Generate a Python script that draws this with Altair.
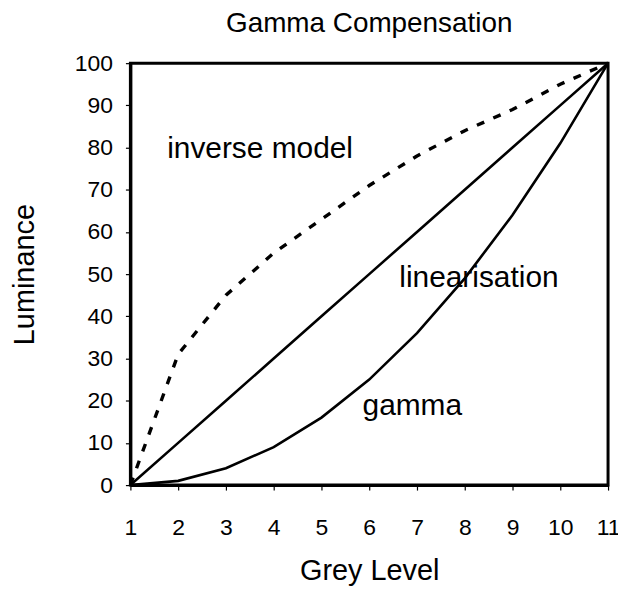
import altair as alt
import pandas as pd

grey = [1, 2, 3, 4, 5, 6, 7, 8, 9, 10, 11]
gamma = [0, 1, 4, 9, 16, 25, 36, 49, 64, 81, 100]
linear = [0, 10, 20, 30, 40, 50, 60, 70, 80, 90, 100]
inverse = [0, 31, 45, 55, 63, 71, 78, 84, 89, 95, 100]

label_text = ["inverse model", "linearisation", "gamma"]
label_x = [1.77, 6.63, 5.86]
label_y = [77.6, 46.9, 16.5]

rows = []
for name, vals in [("gamma", gamma), ("linear", linear), ("inverse", inverse)]:
    for g, v in zip(grey, vals):
        rows.append({"grey": g, "lum": v, "series": name})
df = pd.DataFrame(rows)
labels = pd.DataFrame({"text": label_text, "x": label_x, "y": label_y})

FONT = "Liberation Sans"

xs = alt.Scale(domain=[1, 11], nice=False, zero=False)
ys = alt.Scale(domain=[0, 100], nice=False)

solid = alt.Chart(df[df.series != "inverse"]).mark_line(color="black", strokeWidth=2.6).encode(
    x=alt.X("grey:Q", scale=xs,
            axis=alt.Axis(title="Grey Level", values=grey, format="d",
                          labelPadding=27, titlePadding=17, labelFlush=False)),
    y=alt.Y("lum:Q", scale=ys,
            axis=alt.Axis(title="Luminance", values=linear,
                          labelPadding=13, titlePadding=35)),
    detail="series:N",
)
dashed = alt.Chart(df[df.series == "inverse"]).mark_line(
    color="black", strokeWidth=3.4, strokeDash=[8, 10]
).encode(
    x=alt.X("grey:Q", scale=xs),
    y=alt.Y("lum:Q", scale=ys),
)
text = alt.Chart(labels).mark_text(
    align="left", baseline="alphabetic", fontSize=30, font=FONT, color="black"
).encode(
    x=alt.X("x:Q", scale=xs),
    y=alt.Y("y:Q", scale=ys),
    text="text:N",
)

chart = (solid + dashed + text).properties(
    width=480,
    height=424,
    background="white",
    title=alt.TitleParams("Gamma Compensation", fontSize=28, font=FONT,
                          fontWeight="normal", color="black", offset=14),
    autosize=alt.AutoSizeParams(type="none"),
    padding={"left": 123, "top": 54, "right": 10, "bottom": 106},
).configure_view(stroke="black", strokeWidth=3).configure_axis(
    grid=False,
    labelFontSize=23, titleFontSize=29, titleFontWeight="normal",
    labelFont=FONT, titleFont=FONT, tickSize=5, tickWidth=1.2,
    tickColor="black", domainColor="black", domainWidth=3,
    labelColor="black", titleColor="black",
)

chart.save("out.html", embed_options={"renderer": "svg", "actions": False})
